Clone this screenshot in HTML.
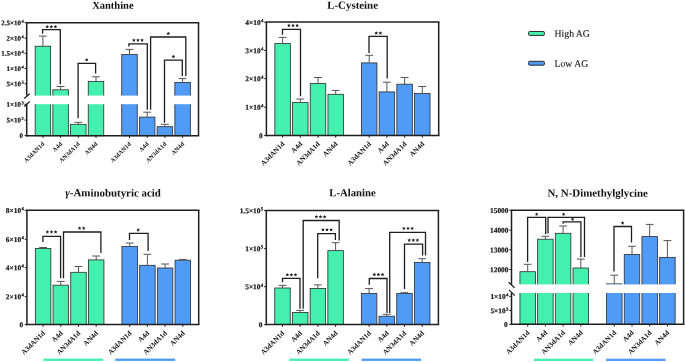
<!DOCTYPE html>
<html><head><meta charset="utf-8"><style>
html,body{margin:0;padding:0;background:#fff;overflow:hidden;}
svg{display:block;will-change:transform;}
text{font-family:"Liberation Serif",serif;fill:#111;}
</style></head><body>
<svg width="685" height="362" viewBox="0 0 685 362">
<rect width="685" height="362" fill="#fff"/>
<rect x="35.15" y="46.20" width="15.5" height="89.55" fill="#45EFAD" stroke="#2b2b2b" stroke-width="0.8"/>
<rect x="52.85" y="89.80" width="15.5" height="45.95" fill="#45EFAD" stroke="#2b2b2b" stroke-width="0.8"/>
<rect x="70.55" y="124.30" width="15.5" height="11.45" fill="#45EFAD" stroke="#2b2b2b" stroke-width="0.8"/>
<rect x="88.25" y="81.50" width="15.5" height="54.25" fill="#45EFAD" stroke="#2b2b2b" stroke-width="0.8"/>
<rect x="121.75" y="54.50" width="15.5" height="81.25" fill="#4F9BF6" stroke="#2b2b2b" stroke-width="0.8"/>
<rect x="139.45" y="117.10" width="15.5" height="18.65" fill="#4F9BF6" stroke="#2b2b2b" stroke-width="0.8"/>
<rect x="157.15" y="126.70" width="15.5" height="9.05" fill="#4F9BF6" stroke="#2b2b2b" stroke-width="0.8"/>
<rect x="174.85" y="82.40" width="15.5" height="53.35" fill="#4F9BF6" stroke="#2b2b2b" stroke-width="0.8"/>
<rect x="27.70" y="95.60" width="169.80" height="8.60" fill="#fff"/>
<line x1="42.90" y1="46.20" x2="42.90" y2="36.10" stroke="#555555" stroke-width="1.0"/>
<line x1="39.00" y1="36.10" x2="46.80" y2="36.10" stroke="#555555" stroke-width="1.0"/>
<line x1="60.60" y1="89.80" x2="60.60" y2="86.50" stroke="#555555" stroke-width="1.0"/>
<line x1="56.70" y1="86.50" x2="64.50" y2="86.50" stroke="#555555" stroke-width="1.0"/>
<line x1="78.30" y1="124.30" x2="78.30" y2="122.30" stroke="#555555" stroke-width="1.0"/>
<line x1="74.40" y1="122.30" x2="82.20" y2="122.30" stroke="#555555" stroke-width="1.0"/>
<line x1="96.00" y1="81.50" x2="96.00" y2="76.80" stroke="#555555" stroke-width="1.0"/>
<line x1="92.10" y1="76.80" x2="99.90" y2="76.80" stroke="#555555" stroke-width="1.0"/>
<line x1="129.50" y1="54.50" x2="129.50" y2="49.40" stroke="#555555" stroke-width="1.0"/>
<line x1="125.60" y1="49.40" x2="133.40" y2="49.40" stroke="#555555" stroke-width="1.0"/>
<line x1="147.20" y1="117.10" x2="147.20" y2="112.20" stroke="#555555" stroke-width="1.0"/>
<line x1="143.30" y1="112.20" x2="151.10" y2="112.20" stroke="#555555" stroke-width="1.0"/>
<line x1="164.90" y1="126.70" x2="164.90" y2="124.30" stroke="#555555" stroke-width="1.0"/>
<line x1="161.00" y1="124.30" x2="168.80" y2="124.30" stroke="#555555" stroke-width="1.0"/>
<line x1="182.60" y1="82.40" x2="182.60" y2="78.60" stroke="#555555" stroke-width="1.0"/>
<line x1="178.70" y1="78.60" x2="186.50" y2="78.60" stroke="#555555" stroke-width="1.0"/>
<polyline points="42.60,33.80 42.60,29.70 60.30,29.70 60.30,84.30" fill="none" stroke="#1e1e1e" stroke-width="1.3"/>
<polygon points="47.20,24.80 47.76,25.93 49.01,26.11 48.10,26.99 48.32,28.24 47.20,27.65 46.08,28.24 46.30,26.99 45.39,26.11 46.64,25.93" fill="#222"/>
<polygon points="51.30,24.80 51.86,25.93 53.11,26.11 52.20,26.99 52.42,28.24 51.30,27.65 50.18,28.24 50.40,26.99 49.49,26.11 50.74,25.93" fill="#222"/>
<polygon points="55.40,24.80 55.96,25.93 57.21,26.11 56.30,26.99 56.52,28.24 55.40,27.65 54.28,28.24 54.50,26.99 53.59,26.11 54.84,25.93" fill="#222"/>
<polyline points="78.10,118.20 78.10,63.30 95.60,63.30 95.60,73.50" fill="none" stroke="#1e1e1e" stroke-width="1.3"/>
<polygon points="86.70,57.90 87.26,59.03 88.51,59.21 87.60,60.09 87.82,61.34 86.70,60.75 85.58,61.34 85.80,60.09 84.89,59.21 86.14,59.03" fill="#222"/>
<polyline points="128.90,46.60 128.90,43.80 147.30,43.80 147.30,109.70" fill="none" stroke="#1e1e1e" stroke-width="1.3"/>
<polygon points="133.90,38.30 134.46,39.43 135.71,39.61 134.80,40.49 135.02,41.74 133.90,41.15 132.78,41.74 133.00,40.49 132.09,39.61 133.34,39.43" fill="#222"/>
<polygon points="138.00,38.30 138.56,39.43 139.81,39.61 138.90,40.49 139.12,41.74 138.00,41.15 136.88,41.74 137.10,40.49 136.19,39.61 137.44,39.43" fill="#222"/>
<polygon points="142.10,38.30 142.66,39.43 143.91,39.61 143.00,40.49 143.22,41.74 142.10,41.15 140.98,41.74 141.20,40.49 140.29,39.61 141.54,39.43" fill="#222"/>
<polyline points="150.60,109.70 150.60,37.00 185.80,37.00 185.80,76.00" fill="none" stroke="#1e1e1e" stroke-width="1.3"/>
<polygon points="168.30,31.70 168.86,32.83 170.11,33.01 169.20,33.89 169.42,35.14 168.30,34.55 167.18,35.14 167.40,33.89 166.49,33.01 167.74,32.83" fill="#222"/>
<polyline points="164.50,122.70 164.50,60.20 182.30,60.20 182.30,75.90" fill="none" stroke="#1e1e1e" stroke-width="1.3"/>
<polygon points="173.40,54.70 173.96,55.83 175.21,56.01 174.30,56.89 174.52,58.14 173.40,57.55 172.28,58.14 172.50,56.89 171.59,56.01 172.84,55.83" fill="#222"/>
<line x1="26.70" y1="22.80" x2="26.70" y2="95.60" stroke="#1e1e1e" stroke-width="1.5"/>
<line x1="26.70" y1="104.20" x2="26.70" y2="136.50" stroke="#1e1e1e" stroke-width="1.5"/>
<line x1="24.20" y1="98.50" x2="29.70" y2="93.80" stroke="#1e1e1e" stroke-width="1.3"/>
<line x1="24.20" y1="106.40" x2="29.70" y2="101.40" stroke="#1e1e1e" stroke-width="1.3"/>
<line x1="25.95" y1="135.75" x2="199.25" y2="135.75" stroke="#1e1e1e" stroke-width="1.5"/>
<line x1="25.95" y1="22.80" x2="199.25" y2="22.80" stroke="#1e1e1e" stroke-width="1.5"/>
<line x1="198.50" y1="22.80" x2="198.50" y2="135.75" stroke="#1e1e1e" stroke-width="1.5"/>
<line x1="24.50" y1="22.70" x2="26.70" y2="22.70" stroke="#1e1e1e" stroke-width="1.0"/>
<text transform="translate(23.70,25.22) rotate(0.05)" text-anchor="end" font-size="7.0" font-weight="bold" stroke="#111" stroke-width="0.18">2.5×10<tspan font-size="4.62" dx="0.35" dy="-2.52">4</tspan></text>
<line x1="24.50" y1="38.20" x2="26.70" y2="38.20" stroke="#1e1e1e" stroke-width="1.0"/>
<text transform="translate(23.70,40.72) rotate(0.05)" text-anchor="end" font-size="7.0" font-weight="bold" stroke="#111" stroke-width="0.18">2×10<tspan font-size="4.62" dx="0.35" dy="-2.52">4</tspan></text>
<line x1="24.50" y1="53.30" x2="26.70" y2="53.30" stroke="#1e1e1e" stroke-width="1.0"/>
<text transform="translate(23.70,55.82) rotate(0.05)" text-anchor="end" font-size="7.0" font-weight="bold" stroke="#111" stroke-width="0.18">1.5×10<tspan font-size="4.62" dx="0.35" dy="-2.52">4</tspan></text>
<line x1="24.50" y1="68.50" x2="26.70" y2="68.50" stroke="#1e1e1e" stroke-width="1.0"/>
<text transform="translate(23.70,71.02) rotate(0.05)" text-anchor="end" font-size="7.0" font-weight="bold" stroke="#111" stroke-width="0.18">1×10<tspan font-size="4.62" dx="0.35" dy="-2.52">4</tspan></text>
<line x1="24.50" y1="83.70" x2="26.70" y2="83.70" stroke="#1e1e1e" stroke-width="1.0"/>
<text transform="translate(23.70,86.22) rotate(0.05)" text-anchor="end" font-size="7.0" font-weight="bold" stroke="#111" stroke-width="0.18">5×10<tspan font-size="4.62" dx="0.35" dy="-2.52">3</tspan></text>
<line x1="24.50" y1="104.30" x2="26.70" y2="104.30" stroke="#1e1e1e" stroke-width="1.0"/>
<text transform="translate(23.70,106.82) rotate(0.05)" text-anchor="end" font-size="7.0" font-weight="bold" stroke="#111" stroke-width="0.18">1×10<tspan font-size="4.62" dx="0.35" dy="-2.52">3</tspan></text>
<line x1="24.50" y1="120.10" x2="26.70" y2="120.10" stroke="#1e1e1e" stroke-width="1.0"/>
<text transform="translate(23.70,122.62) rotate(0.05)" text-anchor="end" font-size="7.0" font-weight="bold" stroke="#111" stroke-width="0.18">5×10<tspan font-size="4.62" dx="0.35" dy="-2.52">2</tspan></text>
<line x1="24.50" y1="135.60" x2="26.70" y2="135.60" stroke="#1e1e1e" stroke-width="1.0"/>
<text transform="translate(22.90,138.12) rotate(0.05)" text-anchor="end" font-size="7.0" font-weight="bold" stroke="#111" stroke-width="0.18">0</text>
<line x1="42.90" y1="135.75" x2="42.90" y2="137.95" stroke="#1e1e1e" stroke-width="1.0"/>
<text transform="translate(44.90,144.35) rotate(-45)" text-anchor="end" font-size="6.2" font-weight="bold">A3dAN1d</text>
<line x1="60.60" y1="135.75" x2="60.60" y2="137.95" stroke="#1e1e1e" stroke-width="1.0"/>
<text transform="translate(62.60,144.35) rotate(-45)" text-anchor="end" font-size="6.2" font-weight="bold">A4d</text>
<line x1="78.30" y1="135.75" x2="78.30" y2="137.95" stroke="#1e1e1e" stroke-width="1.0"/>
<text transform="translate(80.30,144.35) rotate(-45)" text-anchor="end" font-size="6.2" font-weight="bold">AN3dA1d</text>
<line x1="96.00" y1="135.75" x2="96.00" y2="137.95" stroke="#1e1e1e" stroke-width="1.0"/>
<text transform="translate(98.00,144.35) rotate(-45)" text-anchor="end" font-size="6.2" font-weight="bold">AN4d</text>
<line x1="129.50" y1="135.75" x2="129.50" y2="137.95" stroke="#1e1e1e" stroke-width="1.0"/>
<text transform="translate(131.50,144.35) rotate(-45)" text-anchor="end" font-size="6.2" font-weight="bold">A3dAN1d</text>
<line x1="147.20" y1="135.75" x2="147.20" y2="137.95" stroke="#1e1e1e" stroke-width="1.0"/>
<text transform="translate(149.20,144.35) rotate(-45)" text-anchor="end" font-size="6.2" font-weight="bold">A4d</text>
<line x1="164.90" y1="135.75" x2="164.90" y2="137.95" stroke="#1e1e1e" stroke-width="1.0"/>
<text transform="translate(166.90,144.35) rotate(-45)" text-anchor="end" font-size="6.2" font-weight="bold">AN3dA1d</text>
<line x1="182.60" y1="135.75" x2="182.60" y2="137.95" stroke="#1e1e1e" stroke-width="1.0"/>
<text transform="translate(184.60,144.35) rotate(-45)" text-anchor="end" font-size="6.2" font-weight="bold">AN4d</text>
<text transform="translate(112.90,8.80) rotate(0.05)" text-anchor="middle" font-size="10.5" font-weight="bold">Xanthine</text>
<rect x="274.85" y="43.60" width="15.5" height="91.90" fill="#45EFAD" stroke="#2b2b2b" stroke-width="0.8"/>
<rect x="292.55" y="102.60" width="15.5" height="32.90" fill="#45EFAD" stroke="#2b2b2b" stroke-width="0.8"/>
<rect x="310.25" y="83.60" width="15.5" height="51.90" fill="#45EFAD" stroke="#2b2b2b" stroke-width="0.8"/>
<rect x="327.95" y="94.30" width="15.5" height="41.20" fill="#45EFAD" stroke="#2b2b2b" stroke-width="0.8"/>
<rect x="361.45" y="62.90" width="15.5" height="72.60" fill="#4F9BF6" stroke="#2b2b2b" stroke-width="0.8"/>
<rect x="379.15" y="91.90" width="15.5" height="43.60" fill="#4F9BF6" stroke="#2b2b2b" stroke-width="0.8"/>
<rect x="396.85" y="84.20" width="15.5" height="51.30" fill="#4F9BF6" stroke="#2b2b2b" stroke-width="0.8"/>
<rect x="414.55" y="93.50" width="15.5" height="42.00" fill="#4F9BF6" stroke="#2b2b2b" stroke-width="0.8"/>
<line x1="282.60" y1="43.60" x2="282.60" y2="37.40" stroke="#555555" stroke-width="1.0"/>
<line x1="278.70" y1="37.40" x2="286.50" y2="37.40" stroke="#555555" stroke-width="1.0"/>
<line x1="300.30" y1="102.60" x2="300.30" y2="99.00" stroke="#555555" stroke-width="1.0"/>
<line x1="296.40" y1="99.00" x2="304.20" y2="99.00" stroke="#555555" stroke-width="1.0"/>
<line x1="318.00" y1="83.60" x2="318.00" y2="77.50" stroke="#555555" stroke-width="1.0"/>
<line x1="314.10" y1="77.50" x2="321.90" y2="77.50" stroke="#555555" stroke-width="1.0"/>
<line x1="335.70" y1="94.30" x2="335.70" y2="90.40" stroke="#555555" stroke-width="1.0"/>
<line x1="331.80" y1="90.40" x2="339.60" y2="90.40" stroke="#555555" stroke-width="1.0"/>
<line x1="369.20" y1="62.90" x2="369.20" y2="55.30" stroke="#555555" stroke-width="1.0"/>
<line x1="365.30" y1="55.30" x2="373.10" y2="55.30" stroke="#555555" stroke-width="1.0"/>
<line x1="386.90" y1="91.90" x2="386.90" y2="82.20" stroke="#555555" stroke-width="1.0"/>
<line x1="383.00" y1="82.20" x2="390.80" y2="82.20" stroke="#555555" stroke-width="1.0"/>
<line x1="404.60" y1="84.20" x2="404.60" y2="77.50" stroke="#555555" stroke-width="1.0"/>
<line x1="400.70" y1="77.50" x2="408.50" y2="77.50" stroke="#555555" stroke-width="1.0"/>
<line x1="422.30" y1="93.50" x2="422.30" y2="86.50" stroke="#555555" stroke-width="1.0"/>
<line x1="418.40" y1="86.50" x2="426.20" y2="86.50" stroke="#555555" stroke-width="1.0"/>
<polyline points="282.50,34.70 282.50,29.30 300.50,29.30 300.50,96.20" fill="none" stroke="#1e1e1e" stroke-width="1.3"/>
<polygon points="288.90,23.60 289.46,24.73 290.71,24.91 289.80,25.79 290.02,27.04 288.90,26.45 287.78,27.04 288.00,25.79 287.09,24.91 288.34,24.73" fill="#222"/>
<polygon points="293.00,23.60 293.56,24.73 294.81,24.91 293.90,25.79 294.12,27.04 293.00,26.45 291.88,27.04 292.10,25.79 291.19,24.91 292.44,24.73" fill="#222"/>
<polygon points="297.10,23.60 297.66,24.73 298.91,24.91 298.00,25.79 298.22,27.04 297.10,26.45 295.98,27.04 296.20,25.79 295.29,24.91 296.54,24.73" fill="#222"/>
<polyline points="369.00,52.90 369.00,36.40 387.20,36.40 387.20,78.50" fill="none" stroke="#1e1e1e" stroke-width="1.3"/>
<polygon points="376.25,31.20 376.81,32.33 378.06,32.51 377.15,33.39 377.37,34.64 376.25,34.05 375.13,34.64 375.35,33.39 374.44,32.51 375.69,32.33" fill="#222"/>
<polygon points="380.35,31.20 380.91,32.33 382.16,32.51 381.25,33.39 381.47,34.64 380.35,34.05 379.23,34.64 379.45,33.39 378.54,32.51 379.79,32.33" fill="#222"/>
<line x1="266.40" y1="22.00" x2="266.40" y2="136.25" stroke="#1e1e1e" stroke-width="1.5"/>
<line x1="265.65" y1="135.50" x2="439.45" y2="135.50" stroke="#1e1e1e" stroke-width="1.5"/>
<line x1="265.65" y1="22.00" x2="439.45" y2="22.00" stroke="#1e1e1e" stroke-width="1.5"/>
<line x1="438.70" y1="22.00" x2="438.70" y2="135.50" stroke="#1e1e1e" stroke-width="1.5"/>
<line x1="264.20" y1="22.30" x2="266.40" y2="22.30" stroke="#1e1e1e" stroke-width="1.0"/>
<text transform="translate(263.40,24.96) rotate(0.05)" text-anchor="end" font-size="7.4" font-weight="bold" stroke="#111" stroke-width="0.18">4×10<tspan font-size="4.88" dx="0.35" dy="-2.66">4</tspan></text>
<line x1="264.20" y1="50.50" x2="266.40" y2="50.50" stroke="#1e1e1e" stroke-width="1.0"/>
<text transform="translate(263.40,53.16) rotate(0.05)" text-anchor="end" font-size="7.4" font-weight="bold" stroke="#111" stroke-width="0.18">3×10<tspan font-size="4.88" dx="0.35" dy="-2.66">4</tspan></text>
<line x1="264.20" y1="78.70" x2="266.40" y2="78.70" stroke="#1e1e1e" stroke-width="1.0"/>
<text transform="translate(263.40,81.36) rotate(0.05)" text-anchor="end" font-size="7.4" font-weight="bold" stroke="#111" stroke-width="0.18">2×10<tspan font-size="4.88" dx="0.35" dy="-2.66">4</tspan></text>
<line x1="264.20" y1="107.20" x2="266.40" y2="107.20" stroke="#1e1e1e" stroke-width="1.0"/>
<text transform="translate(263.40,109.86) rotate(0.05)" text-anchor="end" font-size="7.4" font-weight="bold" stroke="#111" stroke-width="0.18">1×10<tspan font-size="4.88" dx="0.35" dy="-2.66">4</tspan></text>
<line x1="264.20" y1="135.50" x2="266.40" y2="135.50" stroke="#1e1e1e" stroke-width="1.0"/>
<text transform="translate(262.60,138.16) rotate(0.05)" text-anchor="end" font-size="7.4" font-weight="bold" stroke="#111" stroke-width="0.18">0</text>
<line x1="282.60" y1="135.50" x2="282.60" y2="137.70" stroke="#1e1e1e" stroke-width="1.0"/>
<text transform="translate(285.00,144.50) rotate(-45)" text-anchor="end" font-size="7.1" font-weight="bold">A3dAN1d</text>
<line x1="300.30" y1="135.50" x2="300.30" y2="137.70" stroke="#1e1e1e" stroke-width="1.0"/>
<text transform="translate(302.70,144.50) rotate(-45)" text-anchor="end" font-size="7.1" font-weight="bold">A4d</text>
<line x1="318.00" y1="135.50" x2="318.00" y2="137.70" stroke="#1e1e1e" stroke-width="1.0"/>
<text transform="translate(320.40,144.50) rotate(-45)" text-anchor="end" font-size="7.1" font-weight="bold">AN3dA1d</text>
<line x1="335.70" y1="135.50" x2="335.70" y2="137.70" stroke="#1e1e1e" stroke-width="1.0"/>
<text transform="translate(338.10,144.50) rotate(-45)" text-anchor="end" font-size="7.1" font-weight="bold">AN4d</text>
<line x1="369.20" y1="135.50" x2="369.20" y2="137.70" stroke="#1e1e1e" stroke-width="1.0"/>
<text transform="translate(371.60,144.50) rotate(-45)" text-anchor="end" font-size="7.1" font-weight="bold">A3dAN1d</text>
<line x1="386.90" y1="135.50" x2="386.90" y2="137.70" stroke="#1e1e1e" stroke-width="1.0"/>
<text transform="translate(389.30,144.50) rotate(-45)" text-anchor="end" font-size="7.1" font-weight="bold">A4d</text>
<line x1="404.60" y1="135.50" x2="404.60" y2="137.70" stroke="#1e1e1e" stroke-width="1.0"/>
<text transform="translate(407.00,144.50) rotate(-45)" text-anchor="end" font-size="7.1" font-weight="bold">AN3dA1d</text>
<line x1="422.30" y1="135.50" x2="422.30" y2="137.70" stroke="#1e1e1e" stroke-width="1.0"/>
<text transform="translate(424.70,144.50) rotate(-45)" text-anchor="end" font-size="7.1" font-weight="bold">AN4d</text>
<text transform="translate(352.60,8.70) rotate(0.05)" text-anchor="middle" font-size="10.9" font-weight="bold">L-Cysteine</text>
<rect x="35.35" y="248.50" width="15.5" height="76.10" fill="#45EFAD" stroke="#2b2b2b" stroke-width="0.8"/>
<rect x="53.05" y="285.20" width="15.5" height="39.40" fill="#45EFAD" stroke="#2b2b2b" stroke-width="0.8"/>
<rect x="70.75" y="272.30" width="15.5" height="52.30" fill="#45EFAD" stroke="#2b2b2b" stroke-width="0.8"/>
<rect x="88.45" y="259.90" width="15.5" height="64.70" fill="#45EFAD" stroke="#2b2b2b" stroke-width="0.8"/>
<rect x="121.95" y="246.50" width="15.5" height="78.10" fill="#4F9BF6" stroke="#2b2b2b" stroke-width="0.8"/>
<rect x="139.65" y="265.30" width="15.5" height="59.30" fill="#4F9BF6" stroke="#2b2b2b" stroke-width="0.8"/>
<rect x="157.35" y="268.00" width="15.5" height="56.60" fill="#4F9BF6" stroke="#2b2b2b" stroke-width="0.8"/>
<rect x="175.05" y="260.20" width="15.5" height="64.40" fill="#4F9BF6" stroke="#2b2b2b" stroke-width="0.8"/>
<line x1="43.10" y1="248.50" x2="43.10" y2="247.50" stroke="#555555" stroke-width="1.0"/>
<line x1="39.20" y1="247.50" x2="47.00" y2="247.50" stroke="#555555" stroke-width="1.0"/>
<line x1="60.80" y1="285.20" x2="60.80" y2="281.40" stroke="#555555" stroke-width="1.0"/>
<line x1="56.90" y1="281.40" x2="64.70" y2="281.40" stroke="#555555" stroke-width="1.0"/>
<line x1="78.50" y1="272.30" x2="78.50" y2="266.50" stroke="#555555" stroke-width="1.0"/>
<line x1="74.60" y1="266.50" x2="82.40" y2="266.50" stroke="#555555" stroke-width="1.0"/>
<line x1="96.20" y1="259.90" x2="96.20" y2="256.00" stroke="#555555" stroke-width="1.0"/>
<line x1="92.30" y1="256.00" x2="100.10" y2="256.00" stroke="#555555" stroke-width="1.0"/>
<line x1="129.70" y1="246.50" x2="129.70" y2="243.00" stroke="#555555" stroke-width="1.0"/>
<line x1="125.80" y1="243.00" x2="133.60" y2="243.00" stroke="#555555" stroke-width="1.0"/>
<line x1="147.40" y1="265.30" x2="147.40" y2="254.30" stroke="#555555" stroke-width="1.0"/>
<line x1="143.50" y1="254.30" x2="151.30" y2="254.30" stroke="#555555" stroke-width="1.0"/>
<line x1="165.10" y1="268.00" x2="165.10" y2="264.00" stroke="#555555" stroke-width="1.0"/>
<line x1="161.20" y1="264.00" x2="169.00" y2="264.00" stroke="#555555" stroke-width="1.0"/>
<line x1="182.80" y1="260.20" x2="182.80" y2="259.40" stroke="#555555" stroke-width="1.0"/>
<line x1="178.90" y1="259.40" x2="186.70" y2="259.40" stroke="#555555" stroke-width="1.0"/>
<polyline points="42.90,242.00 42.90,236.40 60.60,236.40 60.60,278.30" fill="none" stroke="#1e1e1e" stroke-width="1.3"/>
<polygon points="47.40,230.10 47.96,231.23 49.21,231.41 48.30,232.29 48.52,233.54 47.40,232.95 46.28,233.54 46.50,232.29 45.59,231.41 46.84,231.23" fill="#222"/>
<polygon points="51.50,230.10 52.06,231.23 53.31,231.41 52.40,232.29 52.62,233.54 51.50,232.95 50.38,233.54 50.60,232.29 49.69,231.41 50.94,231.23" fill="#222"/>
<polygon points="55.60,230.10 56.16,231.23 57.41,231.41 56.50,232.29 56.72,233.54 55.60,232.95 54.48,233.54 54.70,232.29 53.79,231.41 55.04,231.23" fill="#222"/>
<polyline points="63.50,278.30 63.50,232.00 100.90,232.00 100.90,253.00" fill="none" stroke="#1e1e1e" stroke-width="1.3"/>
<polygon points="79.55,226.30 80.11,227.43 81.36,227.61 80.45,228.49 80.67,229.74 79.55,229.15 78.43,229.74 78.65,228.49 77.74,227.61 78.99,227.43" fill="#222"/>
<polygon points="83.65,226.30 84.21,227.43 85.46,227.61 84.55,228.49 84.77,229.74 83.65,229.15 82.53,229.74 82.75,228.49 81.84,227.61 83.09,227.43" fill="#222"/>
<polyline points="129.50,239.90 129.50,233.40 148.10,233.40 148.10,251.00" fill="none" stroke="#1e1e1e" stroke-width="1.3"/>
<polygon points="138.20,228.10 138.76,229.23 140.01,229.41 139.10,230.29 139.32,231.54 138.20,230.95 137.08,231.54 137.30,230.29 136.39,229.41 137.64,229.23" fill="#222"/>
<line x1="26.90" y1="210.30" x2="26.90" y2="325.35" stroke="#1e1e1e" stroke-width="1.5"/>
<line x1="26.15" y1="324.60" x2="199.45" y2="324.60" stroke="#1e1e1e" stroke-width="1.5"/>
<line x1="26.15" y1="210.30" x2="199.45" y2="210.30" stroke="#1e1e1e" stroke-width="1.5"/>
<line x1="198.70" y1="210.30" x2="198.70" y2="324.60" stroke="#1e1e1e" stroke-width="1.5"/>
<line x1="24.70" y1="210.30" x2="26.90" y2="210.30" stroke="#1e1e1e" stroke-width="1.0"/>
<text transform="translate(23.90,212.96) rotate(0.05)" text-anchor="end" font-size="7.4" font-weight="bold" stroke="#111" stroke-width="0.18">8×10<tspan font-size="4.88" dx="0.35" dy="-2.66">4</tspan></text>
<line x1="24.70" y1="239.30" x2="26.90" y2="239.30" stroke="#1e1e1e" stroke-width="1.0"/>
<text transform="translate(23.90,241.96) rotate(0.05)" text-anchor="end" font-size="7.4" font-weight="bold" stroke="#111" stroke-width="0.18">6×10<tspan font-size="4.88" dx="0.35" dy="-2.66">4</tspan></text>
<line x1="24.70" y1="267.60" x2="26.90" y2="267.60" stroke="#1e1e1e" stroke-width="1.0"/>
<text transform="translate(23.90,270.26) rotate(0.05)" text-anchor="end" font-size="7.4" font-weight="bold" stroke="#111" stroke-width="0.18">4×10<tspan font-size="4.88" dx="0.35" dy="-2.66">4</tspan></text>
<line x1="24.70" y1="296.60" x2="26.90" y2="296.60" stroke="#1e1e1e" stroke-width="1.0"/>
<text transform="translate(23.90,299.26) rotate(0.05)" text-anchor="end" font-size="7.4" font-weight="bold" stroke="#111" stroke-width="0.18">2×10<tspan font-size="4.88" dx="0.35" dy="-2.66">4</tspan></text>
<line x1="24.70" y1="324.60" x2="26.90" y2="324.60" stroke="#1e1e1e" stroke-width="1.0"/>
<text transform="translate(23.10,327.26) rotate(0.05)" text-anchor="end" font-size="7.4" font-weight="bold" stroke="#111" stroke-width="0.18">0</text>
<line x1="43.10" y1="324.60" x2="43.10" y2="326.80" stroke="#1e1e1e" stroke-width="1.0"/>
<text transform="translate(45.50,333.60) rotate(-45)" text-anchor="end" font-size="7.1" font-weight="bold">A3dAN1d</text>
<line x1="60.80" y1="324.60" x2="60.80" y2="326.80" stroke="#1e1e1e" stroke-width="1.0"/>
<text transform="translate(63.20,333.60) rotate(-45)" text-anchor="end" font-size="7.1" font-weight="bold">A4d</text>
<line x1="78.50" y1="324.60" x2="78.50" y2="326.80" stroke="#1e1e1e" stroke-width="1.0"/>
<text transform="translate(80.90,333.60) rotate(-45)" text-anchor="end" font-size="7.1" font-weight="bold">AN3dA1d</text>
<line x1="96.20" y1="324.60" x2="96.20" y2="326.80" stroke="#1e1e1e" stroke-width="1.0"/>
<text transform="translate(98.60,333.60) rotate(-45)" text-anchor="end" font-size="7.1" font-weight="bold">AN4d</text>
<line x1="129.70" y1="324.60" x2="129.70" y2="326.80" stroke="#1e1e1e" stroke-width="1.0"/>
<text transform="translate(132.10,333.60) rotate(-45)" text-anchor="end" font-size="7.1" font-weight="bold">A3dAN1d</text>
<line x1="147.40" y1="324.60" x2="147.40" y2="326.80" stroke="#1e1e1e" stroke-width="1.0"/>
<text transform="translate(149.80,333.60) rotate(-45)" text-anchor="end" font-size="7.1" font-weight="bold">A4d</text>
<line x1="165.10" y1="324.60" x2="165.10" y2="326.80" stroke="#1e1e1e" stroke-width="1.0"/>
<text transform="translate(167.50,333.60) rotate(-45)" text-anchor="end" font-size="7.1" font-weight="bold">AN3dA1d</text>
<line x1="182.80" y1="324.60" x2="182.80" y2="326.80" stroke="#1e1e1e" stroke-width="1.0"/>
<text transform="translate(185.20,333.60) rotate(-45)" text-anchor="end" font-size="7.1" font-weight="bold">AN4d</text>
<text transform="translate(113.10,196.40) rotate(0.05)" text-anchor="middle" font-size="10.9" font-weight="bold"><tspan font-style="italic">γ</tspan>-Aminobutyric acid</text>
<rect x="43.3" y="358.6" width="59.70" height="2.3" fill="#45EFAD"/>
<rect x="115.3" y="358.6" width="59.90" height="2.3" fill="#4F9BF6"/>
<rect x="274.75" y="288.00" width="15.5" height="36.60" fill="#45EFAD" stroke="#2b2b2b" stroke-width="0.8"/>
<rect x="292.45" y="312.40" width="15.5" height="12.20" fill="#45EFAD" stroke="#2b2b2b" stroke-width="0.8"/>
<rect x="310.15" y="288.40" width="15.5" height="36.20" fill="#45EFAD" stroke="#2b2b2b" stroke-width="0.8"/>
<rect x="327.85" y="250.60" width="15.5" height="74.00" fill="#45EFAD" stroke="#2b2b2b" stroke-width="0.8"/>
<rect x="361.35" y="293.40" width="15.5" height="31.20" fill="#4F9BF6" stroke="#2b2b2b" stroke-width="0.8"/>
<rect x="379.05" y="316.20" width="15.5" height="8.40" fill="#4F9BF6" stroke="#2b2b2b" stroke-width="0.8"/>
<rect x="396.75" y="293.40" width="15.5" height="31.20" fill="#4F9BF6" stroke="#2b2b2b" stroke-width="0.8"/>
<rect x="414.45" y="262.40" width="15.5" height="62.20" fill="#4F9BF6" stroke="#2b2b2b" stroke-width="0.8"/>
<line x1="282.50" y1="288.00" x2="282.50" y2="285.40" stroke="#555555" stroke-width="1.0"/>
<line x1="278.60" y1="285.40" x2="286.40" y2="285.40" stroke="#555555" stroke-width="1.0"/>
<line x1="300.20" y1="312.40" x2="300.20" y2="310.40" stroke="#555555" stroke-width="1.0"/>
<line x1="296.30" y1="310.40" x2="304.10" y2="310.40" stroke="#555555" stroke-width="1.0"/>
<line x1="317.90" y1="288.40" x2="317.90" y2="284.90" stroke="#555555" stroke-width="1.0"/>
<line x1="314.00" y1="284.90" x2="321.80" y2="284.90" stroke="#555555" stroke-width="1.0"/>
<line x1="335.60" y1="250.60" x2="335.60" y2="242.70" stroke="#555555" stroke-width="1.0"/>
<line x1="331.70" y1="242.70" x2="339.50" y2="242.70" stroke="#555555" stroke-width="1.0"/>
<line x1="369.10" y1="293.40" x2="369.10" y2="288.60" stroke="#555555" stroke-width="1.0"/>
<line x1="365.20" y1="288.60" x2="373.00" y2="288.60" stroke="#555555" stroke-width="1.0"/>
<line x1="386.80" y1="316.20" x2="386.80" y2="314.30" stroke="#555555" stroke-width="1.0"/>
<line x1="382.90" y1="314.30" x2="390.70" y2="314.30" stroke="#555555" stroke-width="1.0"/>
<line x1="404.50" y1="293.40" x2="404.50" y2="292.70" stroke="#555555" stroke-width="1.0"/>
<line x1="400.60" y1="292.70" x2="408.40" y2="292.70" stroke="#555555" stroke-width="1.0"/>
<line x1="422.20" y1="262.40" x2="422.20" y2="258.70" stroke="#555555" stroke-width="1.0"/>
<line x1="418.30" y1="258.70" x2="426.10" y2="258.70" stroke="#555555" stroke-width="1.0"/>
<polyline points="282.50,282.20 282.50,278.30 300.00,278.30 300.00,308.80" fill="none" stroke="#1e1e1e" stroke-width="1.3"/>
<polygon points="287.30,272.90 287.86,274.03 289.11,274.21 288.20,275.09 288.42,276.34 287.30,275.75 286.18,276.34 286.40,275.09 285.49,274.21 286.74,274.03" fill="#222"/>
<polygon points="291.40,272.90 291.96,274.03 293.21,274.21 292.30,275.09 292.52,276.34 291.40,275.75 290.28,276.34 290.50,275.09 289.59,274.21 290.84,274.03" fill="#222"/>
<polygon points="295.50,272.90 296.06,274.03 297.31,274.21 296.40,275.09 296.62,276.34 295.50,275.75 294.38,276.34 294.60,275.09 293.69,274.21 294.94,274.03" fill="#222"/>
<polyline points="303.20,308.80 303.20,220.50 339.20,220.50 339.20,240.50" fill="none" stroke="#1e1e1e" stroke-width="1.3"/>
<polygon points="316.40,214.90 316.96,216.03 318.21,216.21 317.30,217.09 317.52,218.34 316.40,217.75 315.28,218.34 315.50,217.09 314.59,216.21 315.84,216.03" fill="#222"/>
<polygon points="320.50,214.90 321.06,216.03 322.31,216.21 321.40,217.09 321.62,218.34 320.50,217.75 319.38,218.34 319.60,217.09 318.69,216.21 319.94,216.03" fill="#222"/>
<polygon points="324.60,214.90 325.16,216.03 326.41,216.21 325.50,217.09 325.72,218.34 324.60,217.75 323.48,218.34 323.70,217.09 322.79,216.21 324.04,216.03" fill="#222"/>
<polyline points="317.70,278.30 317.70,233.70 335.40,233.70 335.40,240.10" fill="none" stroke="#1e1e1e" stroke-width="1.3"/>
<polygon points="322.90,227.90 323.46,229.03 324.71,229.21 323.80,230.09 324.02,231.34 322.90,230.75 321.78,231.34 322.00,230.09 321.09,229.21 322.34,229.03" fill="#222"/>
<polygon points="327.00,227.90 327.56,229.03 328.81,229.21 327.90,230.09 328.12,231.34 327.00,230.75 325.88,231.34 326.10,230.09 325.19,229.21 326.44,229.03" fill="#222"/>
<polygon points="331.10,227.90 331.66,229.03 332.91,229.21 332.00,230.09 332.22,231.34 331.10,230.75 329.98,231.34 330.20,230.09 329.29,229.21 330.54,229.03" fill="#222"/>
<polyline points="369.30,284.70 369.30,278.50 387.00,278.50 387.00,313.10" fill="none" stroke="#1e1e1e" stroke-width="1.3"/>
<polygon points="374.30,272.70 374.86,273.83 376.11,274.01 375.20,274.89 375.42,276.14 374.30,275.55 373.18,276.14 373.40,274.89 372.49,274.01 373.74,273.83" fill="#222"/>
<polygon points="378.40,272.70 378.96,273.83 380.21,274.01 379.30,274.89 379.52,276.14 378.40,275.55 377.28,276.14 377.50,274.89 376.59,274.01 377.84,273.83" fill="#222"/>
<polygon points="382.50,272.70 383.06,273.83 384.31,274.01 383.40,274.89 383.62,276.14 382.50,275.55 381.38,276.14 381.60,274.89 380.69,274.01 381.94,273.83" fill="#222"/>
<polyline points="389.70,313.10 389.70,232.40 425.50,232.40 425.50,255.60" fill="none" stroke="#1e1e1e" stroke-width="1.3"/>
<polygon points="403.90,226.50 404.46,227.63 405.71,227.81 404.80,228.69 405.02,229.94 403.90,229.35 402.78,229.94 403.00,228.69 402.09,227.81 403.34,227.63" fill="#222"/>
<polygon points="408.00,226.50 408.56,227.63 409.81,227.81 408.90,228.69 409.12,229.94 408.00,229.35 406.88,229.94 407.10,228.69 406.19,227.81 407.44,227.63" fill="#222"/>
<polygon points="412.10,226.50 412.66,227.63 413.91,227.81 413.00,228.69 413.22,229.94 412.10,229.35 410.98,229.94 411.20,228.69 410.29,227.81 411.54,227.63" fill="#222"/>
<polyline points="404.50,289.00 404.50,244.20 422.60,244.20 422.60,255.60" fill="none" stroke="#1e1e1e" stroke-width="1.3"/>
<polygon points="409.20,238.30 409.76,239.43 411.01,239.61 410.10,240.49 410.32,241.74 409.20,241.15 408.08,241.74 408.30,240.49 407.39,239.61 408.64,239.43" fill="#222"/>
<polygon points="413.30,238.30 413.86,239.43 415.11,239.61 414.20,240.49 414.42,241.74 413.30,241.15 412.18,241.74 412.40,240.49 411.49,239.61 412.74,239.43" fill="#222"/>
<polygon points="417.40,238.30 417.96,239.43 419.21,239.61 418.30,240.49 418.52,241.74 417.40,241.15 416.28,241.74 416.50,240.49 415.59,239.61 416.84,239.43" fill="#222"/>
<line x1="266.30" y1="210.50" x2="266.30" y2="325.35" stroke="#1e1e1e" stroke-width="1.5"/>
<line x1="265.55" y1="324.60" x2="439.15" y2="324.60" stroke="#1e1e1e" stroke-width="1.5"/>
<line x1="265.55" y1="210.50" x2="439.15" y2="210.50" stroke="#1e1e1e" stroke-width="1.5"/>
<line x1="438.40" y1="210.50" x2="438.40" y2="324.60" stroke="#1e1e1e" stroke-width="1.5"/>
<line x1="264.10" y1="210.50" x2="266.30" y2="210.50" stroke="#1e1e1e" stroke-width="1.0"/>
<text transform="translate(263.30,213.16) rotate(0.05)" text-anchor="end" font-size="7.4" font-weight="bold" stroke="#111" stroke-width="0.18">1.5×10<tspan font-size="4.88" dx="0.35" dy="-2.66">5</tspan></text>
<line x1="264.10" y1="248.60" x2="266.30" y2="248.60" stroke="#1e1e1e" stroke-width="1.0"/>
<text transform="translate(263.30,251.26) rotate(0.05)" text-anchor="end" font-size="7.4" font-weight="bold" stroke="#111" stroke-width="0.18">1×10<tspan font-size="4.88" dx="0.35" dy="-2.66">5</tspan></text>
<line x1="264.10" y1="286.70" x2="266.30" y2="286.70" stroke="#1e1e1e" stroke-width="1.0"/>
<text transform="translate(263.30,289.36) rotate(0.05)" text-anchor="end" font-size="7.4" font-weight="bold" stroke="#111" stroke-width="0.18">5×10<tspan font-size="4.88" dx="0.35" dy="-2.66">4</tspan></text>
<line x1="264.10" y1="324.60" x2="266.30" y2="324.60" stroke="#1e1e1e" stroke-width="1.0"/>
<text transform="translate(262.50,327.26) rotate(0.05)" text-anchor="end" font-size="7.4" font-weight="bold" stroke="#111" stroke-width="0.18">0</text>
<line x1="282.50" y1="324.60" x2="282.50" y2="326.80" stroke="#1e1e1e" stroke-width="1.0"/>
<text transform="translate(284.90,333.60) rotate(-45)" text-anchor="end" font-size="7.1" font-weight="bold">A3dAN1d</text>
<line x1="300.20" y1="324.60" x2="300.20" y2="326.80" stroke="#1e1e1e" stroke-width="1.0"/>
<text transform="translate(302.60,333.60) rotate(-45)" text-anchor="end" font-size="7.1" font-weight="bold">A4d</text>
<line x1="317.90" y1="324.60" x2="317.90" y2="326.80" stroke="#1e1e1e" stroke-width="1.0"/>
<text transform="translate(320.30,333.60) rotate(-45)" text-anchor="end" font-size="7.1" font-weight="bold">AN3dA1d</text>
<line x1="335.60" y1="324.60" x2="335.60" y2="326.80" stroke="#1e1e1e" stroke-width="1.0"/>
<text transform="translate(338.00,333.60) rotate(-45)" text-anchor="end" font-size="7.1" font-weight="bold">AN4d</text>
<line x1="369.10" y1="324.60" x2="369.10" y2="326.80" stroke="#1e1e1e" stroke-width="1.0"/>
<text transform="translate(371.50,333.60) rotate(-45)" text-anchor="end" font-size="7.1" font-weight="bold">A3dAN1d</text>
<line x1="386.80" y1="324.60" x2="386.80" y2="326.80" stroke="#1e1e1e" stroke-width="1.0"/>
<text transform="translate(389.20,333.60) rotate(-45)" text-anchor="end" font-size="7.1" font-weight="bold">A4d</text>
<line x1="404.50" y1="324.60" x2="404.50" y2="326.80" stroke="#1e1e1e" stroke-width="1.0"/>
<text transform="translate(406.90,333.60) rotate(-45)" text-anchor="end" font-size="7.1" font-weight="bold">AN3dA1d</text>
<line x1="422.20" y1="324.60" x2="422.20" y2="326.80" stroke="#1e1e1e" stroke-width="1.0"/>
<text transform="translate(424.60,333.60) rotate(-45)" text-anchor="end" font-size="7.1" font-weight="bold">AN4d</text>
<text transform="translate(352.50,196.30) rotate(0.05)" text-anchor="middle" font-size="10.7" font-weight="bold">L-Alanine</text>
<rect x="289.4" y="358.6" width="59.40" height="2.3" fill="#45EFAD"/>
<rect x="361.6" y="358.6" width="59.40" height="2.3" fill="#4F9BF6"/>
<rect x="519.95" y="271.70" width="15.5" height="52.60" fill="#45EFAD" stroke="#2b2b2b" stroke-width="0.8"/>
<rect x="537.65" y="239.20" width="15.5" height="85.10" fill="#45EFAD" stroke="#2b2b2b" stroke-width="0.8"/>
<rect x="555.35" y="233.30" width="15.5" height="91.00" fill="#45EFAD" stroke="#2b2b2b" stroke-width="0.8"/>
<rect x="573.05" y="268.00" width="15.5" height="56.30" fill="#45EFAD" stroke="#2b2b2b" stroke-width="0.8"/>
<rect x="606.55" y="283.90" width="15.5" height="40.40" fill="#4F9BF6" stroke="#2b2b2b" stroke-width="0.8"/>
<rect x="624.25" y="254.60" width="15.5" height="69.70" fill="#4F9BF6" stroke="#2b2b2b" stroke-width="0.8"/>
<rect x="641.95" y="236.60" width="15.5" height="87.70" fill="#4F9BF6" stroke="#2b2b2b" stroke-width="0.8"/>
<rect x="659.65" y="257.40" width="15.5" height="66.90" fill="#4F9BF6" stroke="#2b2b2b" stroke-width="0.8"/>
<rect x="512.50" y="284.40" width="169.80" height="8.60" fill="#fff"/>
<line x1="527.70" y1="271.70" x2="527.70" y2="264.30" stroke="#555555" stroke-width="1.0"/>
<line x1="523.80" y1="264.30" x2="531.60" y2="264.30" stroke="#555555" stroke-width="1.0"/>
<line x1="545.40" y1="239.20" x2="545.40" y2="236.30" stroke="#555555" stroke-width="1.0"/>
<line x1="541.50" y1="236.30" x2="549.30" y2="236.30" stroke="#555555" stroke-width="1.0"/>
<line x1="563.10" y1="233.30" x2="563.10" y2="226.00" stroke="#555555" stroke-width="1.0"/>
<line x1="559.20" y1="226.00" x2="567.00" y2="226.00" stroke="#555555" stroke-width="1.0"/>
<line x1="580.80" y1="268.00" x2="580.80" y2="259.10" stroke="#555555" stroke-width="1.0"/>
<line x1="576.90" y1="259.10" x2="584.70" y2="259.10" stroke="#555555" stroke-width="1.0"/>
<line x1="614.30" y1="283.90" x2="614.30" y2="275.20" stroke="#555555" stroke-width="1.0"/>
<line x1="610.40" y1="275.20" x2="618.20" y2="275.20" stroke="#555555" stroke-width="1.0"/>
<line x1="632.00" y1="254.60" x2="632.00" y2="246.30" stroke="#555555" stroke-width="1.0"/>
<line x1="628.10" y1="246.30" x2="635.90" y2="246.30" stroke="#555555" stroke-width="1.0"/>
<line x1="649.70" y1="236.60" x2="649.70" y2="224.40" stroke="#555555" stroke-width="1.0"/>
<line x1="645.80" y1="224.40" x2="653.60" y2="224.40" stroke="#555555" stroke-width="1.0"/>
<line x1="667.40" y1="257.40" x2="667.40" y2="240.60" stroke="#555555" stroke-width="1.0"/>
<line x1="663.50" y1="240.60" x2="671.30" y2="240.60" stroke="#555555" stroke-width="1.0"/>
<polyline points="527.60,262.10 527.60,217.30 545.70,217.30 545.70,234.20" fill="none" stroke="#1e1e1e" stroke-width="1.3"/>
<polygon points="536.70,212.40 537.26,213.53 538.51,213.71 537.60,214.59 537.82,215.84 536.70,215.25 535.58,215.84 535.80,214.59 534.89,213.71 536.14,213.53" fill="#222"/>
<polyline points="548.00,233.60 548.00,217.30 584.50,217.30 584.50,256.90" fill="none" stroke="#1e1e1e" stroke-width="1.3"/>
<polygon points="563.60,212.40 564.16,213.53 565.41,213.71 564.50,214.59 564.72,215.84 563.60,215.25 562.48,215.84 562.70,214.59 561.79,213.71 563.04,213.53" fill="#222"/>
<polyline points="563.10,223.70 563.10,221.90 580.90,221.90 580.90,256.90" fill="none" stroke="#1e1e1e" stroke-width="1.3"/>
<polygon points="572.60,217.40 573.16,218.53 574.41,218.71 573.50,219.59 573.72,220.84 572.60,220.25 571.48,220.84 571.70,219.59 570.79,218.71 572.04,218.53" fill="#222"/>
<polyline points="614.00,271.50 614.00,226.50 631.50,226.50 631.50,242.50" fill="none" stroke="#1e1e1e" stroke-width="1.3"/>
<polygon points="622.60,221.10 623.16,222.23 624.41,222.41 623.50,223.29 623.72,224.54 622.60,223.95 621.48,224.54 621.70,223.29 620.79,222.41 622.04,222.23" fill="#222"/>
<line x1="511.50" y1="210.30" x2="511.50" y2="284.40" stroke="#1e1e1e" stroke-width="1.5"/>
<line x1="511.50" y1="293.00" x2="511.50" y2="325.05" stroke="#1e1e1e" stroke-width="1.5"/>
<line x1="508.70" y1="282.30" x2="514.50" y2="287.70" stroke="#1e1e1e" stroke-width="1.3"/>
<line x1="509.00" y1="289.90" x2="514.80" y2="295.60" stroke="#1e1e1e" stroke-width="1.3"/>
<line x1="510.75" y1="324.30" x2="684.35" y2="324.30" stroke="#1e1e1e" stroke-width="1.5"/>
<line x1="510.75" y1="210.30" x2="684.35" y2="210.30" stroke="#1e1e1e" stroke-width="1.5"/>
<line x1="683.60" y1="210.30" x2="683.60" y2="324.30" stroke="#1e1e1e" stroke-width="1.5"/>
<line x1="509.30" y1="210.30" x2="511.50" y2="210.30" stroke="#1e1e1e" stroke-width="1.0"/>
<text transform="translate(508.50,212.96) rotate(0.05)" text-anchor="end" font-size="7.4" font-weight="bold" stroke="#111" stroke-width="0.18">15000</text>
<line x1="509.30" y1="230.10" x2="511.50" y2="230.10" stroke="#1e1e1e" stroke-width="1.0"/>
<text transform="translate(508.50,232.76) rotate(0.05)" text-anchor="end" font-size="7.4" font-weight="bold" stroke="#111" stroke-width="0.18">14000</text>
<line x1="509.30" y1="249.80" x2="511.50" y2="249.80" stroke="#1e1e1e" stroke-width="1.0"/>
<text transform="translate(508.50,252.46) rotate(0.05)" text-anchor="end" font-size="7.4" font-weight="bold" stroke="#111" stroke-width="0.18">13000</text>
<line x1="509.30" y1="269.50" x2="511.50" y2="269.50" stroke="#1e1e1e" stroke-width="1.0"/>
<text transform="translate(508.50,272.16) rotate(0.05)" text-anchor="end" font-size="7.4" font-weight="bold" stroke="#111" stroke-width="0.18">12000</text>
<line x1="509.30" y1="296.40" x2="511.50" y2="296.40" stroke="#1e1e1e" stroke-width="1.0"/>
<text transform="translate(508.50,299.06) rotate(0.05)" text-anchor="end" font-size="7.4" font-weight="bold" stroke="#111" stroke-width="0.18">1×10<tspan font-size="4.88" dx="0.35" dy="-2.66">4</tspan></text>
<line x1="509.30" y1="310.50" x2="511.50" y2="310.50" stroke="#1e1e1e" stroke-width="1.0"/>
<text transform="translate(508.50,313.16) rotate(0.05)" text-anchor="end" font-size="7.4" font-weight="bold" stroke="#111" stroke-width="0.18">5×10<tspan font-size="4.88" dx="0.35" dy="-2.66">3</tspan></text>
<line x1="509.30" y1="324.30" x2="511.50" y2="324.30" stroke="#1e1e1e" stroke-width="1.0"/>
<text transform="translate(507.70,326.96) rotate(0.05)" text-anchor="end" font-size="7.4" font-weight="bold" stroke="#111" stroke-width="0.18">0</text>
<line x1="527.70" y1="324.30" x2="527.70" y2="326.50" stroke="#1e1e1e" stroke-width="1.0"/>
<text transform="translate(530.10,333.30) rotate(-45)" text-anchor="end" font-size="7.1" font-weight="bold">A3dAN1d</text>
<line x1="545.40" y1="324.30" x2="545.40" y2="326.50" stroke="#1e1e1e" stroke-width="1.0"/>
<text transform="translate(547.80,333.30) rotate(-45)" text-anchor="end" font-size="7.1" font-weight="bold">A4d</text>
<line x1="563.10" y1="324.30" x2="563.10" y2="326.50" stroke="#1e1e1e" stroke-width="1.0"/>
<text transform="translate(565.50,333.30) rotate(-45)" text-anchor="end" font-size="7.1" font-weight="bold">AN3dA1d</text>
<line x1="580.80" y1="324.30" x2="580.80" y2="326.50" stroke="#1e1e1e" stroke-width="1.0"/>
<text transform="translate(583.20,333.30) rotate(-45)" text-anchor="end" font-size="7.1" font-weight="bold">AN4d</text>
<line x1="614.30" y1="324.30" x2="614.30" y2="326.50" stroke="#1e1e1e" stroke-width="1.0"/>
<text transform="translate(616.70,333.30) rotate(-45)" text-anchor="end" font-size="7.1" font-weight="bold">A3dAN1d</text>
<line x1="632.00" y1="324.30" x2="632.00" y2="326.50" stroke="#1e1e1e" stroke-width="1.0"/>
<text transform="translate(634.40,333.30) rotate(-45)" text-anchor="end" font-size="7.1" font-weight="bold">A4d</text>
<line x1="649.70" y1="324.30" x2="649.70" y2="326.50" stroke="#1e1e1e" stroke-width="1.0"/>
<text transform="translate(652.10,333.30) rotate(-45)" text-anchor="end" font-size="7.1" font-weight="bold">AN3dA1d</text>
<line x1="667.40" y1="324.30" x2="667.40" y2="326.50" stroke="#1e1e1e" stroke-width="1.0"/>
<text transform="translate(669.80,333.30) rotate(-45)" text-anchor="end" font-size="7.1" font-weight="bold">AN4d</text>
<text transform="translate(597.70,196.60) rotate(0.05)" text-anchor="middle" font-size="10.9" font-weight="bold">N, N-Dimethylglycine</text>
<rect x="534.1" y="358.7" width="59.10" height="2.3" fill="#45EFAD"/>
<rect x="606.1" y="358.7" width="59.40" height="2.3" fill="#4F9BF6"/>
<rect x="528.6" y="31.5" width="15.8" height="3.9" rx="1" fill="#45EFAD" stroke="#2a2a2a" stroke-width="1"/>
<rect x="528.6" y="61.3" width="15.8" height="3.9" rx="1" fill="#4F9BF6" stroke="#2a2a2a" stroke-width="1"/>
<text transform="translate(554.6,36.7) rotate(0.05)" font-size="9.7" stroke="#222" stroke-width="0.12">High AG</text>
<text transform="translate(554.6,66.7) rotate(0.05)" font-size="9.7" stroke="#222" stroke-width="0.12">Low AG</text>
</svg></body></html>
